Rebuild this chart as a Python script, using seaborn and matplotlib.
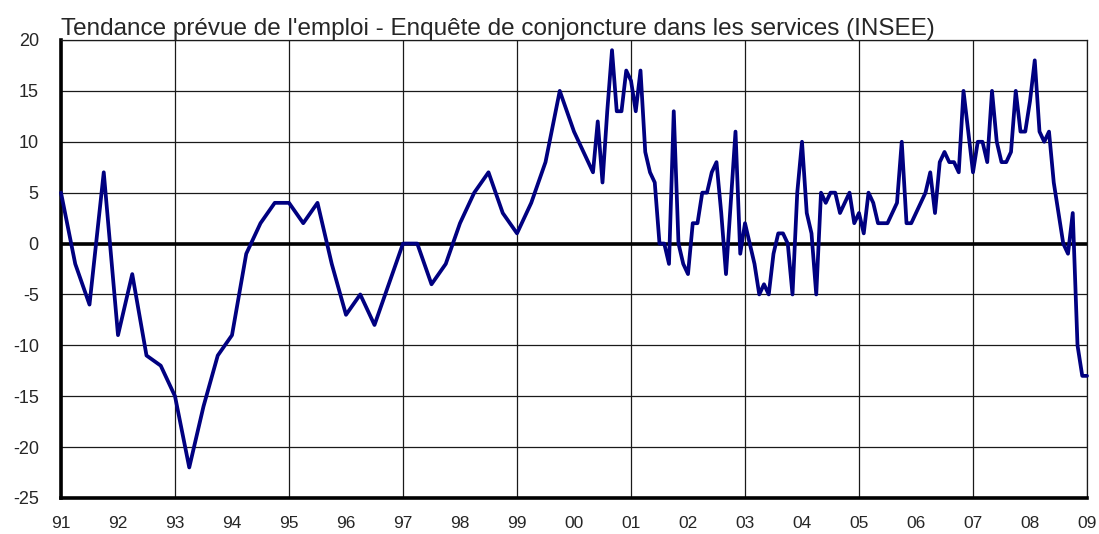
import pandas as pd
import numpy as np
import matplotlib.pyplot as plt
import seaborn as sns


title = "Tendance prévue de l'emploi - Enquête de conjoncture dans les services (INSEE)"

# quarterly points, Jan 1991 -> Apr 2000
quarterly_values = [
    5, -2, -6, 7,
    -9, -3, -11, -12,
    -15, -22, -16, -11,
    -9, -1, 2, 4,
    4, 2, 4, -2,
    -7, -5, -8, -4,
    0, 0, -4, -2,
    2, 5, 7, 3,
    1, 4, 8, 15,
    11, 8,
]

# monthly points, May 2000 -> Jan 2009
monthly_values = [
    7, 12, 6, 13, 19, 13, 13, 17,
    16, 13, 17, 9, 7, 6, 0, 0, -2, 13, 0, -2,
    -3, 2, 2, 5, 5, 7, 8, 3, -3, 4, 11, -1,
    2, 0, -2, -5, -4, -5, -1, 1, 1, 0, -5, 5,
    10, 3, 1, -5, 5, 4, 5, 5, 3, 4, 5, 2,
    3, 1, 5, 4, 2, 2, 2, 3, 4, 10, 2, 2,
    3, 4, 5, 7, 3, 8, 9, 8, 8, 7, 15, 11,
    7, 10, 10, 8, 15, 10, 8, 8, 9, 15, 11, 11,
    14, 18, 11, 10, 11, 6, 3, 0, -1, 3, -10, -13,
    -13,
]

years = list(range(1991, 2010))
year_labels = [f"{y % 100:02d}" for y in years]
y_ticks = [20, 15, 10, 5, 0, -5, -10, -15, -20, -25]

q_dates = pd.date_range("1991-01-01", periods=len(quarterly_values), freq="QS")
m_dates = pd.date_range("2000-05-01", periods=len(monthly_values), freq="MS")
dates = q_dates.append(m_dates)

df = pd.DataFrame({
    "date": dates,
    "value": quarterly_values + monthly_values,
})
df["year"] = df["date"].dt.year + (df["date"].dt.month - 1) / 12


sns.set_style("white")
plt.rcParams["font.family"] = ["Liberation Sans", "DejaVu Sans"]

fig = plt.figure(figsize=(10.99, 5.34), dpi=100)
ax = fig.add_axes([61 / 1099, 1 - 498 / 534, 1026 / 1099, 458 / 534])

# grid: horizontal every 5, vertical every two years
for v in y_ticks:
    ax.axhline(v, color="#1a1a1a", lw=0.9, zorder=1)
for y in years[::2]:
    ax.axvline(y, color="#1a1a1a", lw=0.9, zorder=1)
ax.axhline(0, color="black", lw=2.6, zorder=2)

sns.lineplot(data=df, x="year", y="value", ax=ax, color="#000080",
             linewidth=2.7, sort=False, zorder=3, clip_on=False)

ax.set_xlim(1991, 2009)
ax.set_ylim(-25, 20)
ax.set_xticks(years)
ax.set_xticklabels(year_labels, fontsize=12.5)
ax.set_yticks(y_ticks)
ax.set_yticklabels([str(v) for v in y_ticks], fontsize=13)
ax.tick_params(axis="x", direction="in", length=10, width=0.9, pad=13, color="#1a1a1a")
ax.tick_params(axis="y", direction="out", length=6, width=0.9, pad=10, color="#1a1a1a")
ax.set_xlabel("")
ax.set_ylabel("")

for side in ["left", "bottom"]:
    ax.spines[side].set_linewidth(2.6)
    ax.spines[side].set_color("black")
for side in ["top", "right"]:
    ax.spines[side].set_linewidth(0.9)
    ax.spines[side].set_color("#1a1a1a")

fig.text(61 / 1099, 1 - 35 / 534, title, fontsize=17.5, va="baseline", ha="left")

plt.savefig("out.png", dpi=100)
